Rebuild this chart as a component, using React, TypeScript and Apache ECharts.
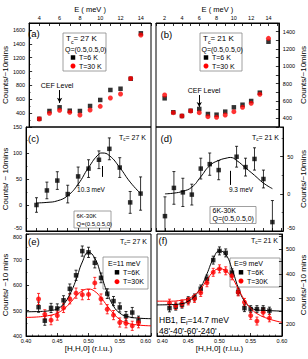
import React, { useEffect, useRef } from 'react';
import * as echarts from 'echarts';

const FONT = 'Liberation Sans, Arial, sans-serif';

// (a) energy scan, Tc = 27 K
const energyA = [4, 5, 6, 7, 8, 9, 10, 11, 12, 13, 14];
const aBlack = [318, 431, 484, 435, 431, 503, 590, 734, 752, 896, 1551];
const aRed = [315, 397, 441, 412, 373, 445, 498, 618, 676, 900, 1527];
// (b) energy scan, Tc = 21 K
const energyB = [2, 3, 4, 5, 6, 7, 8, 9, 10, 11, 12, 13, 14];
const bBlack = [631, 470, 427, 488, 508, 450, 442, 477, 527, 557, 600, 696, 1284];
const bRed = [669, 465, 427, 485, 465, 419, 412, 438, 477, 527, 573, 677, 1323];
// (c) difference 6K-30K
const energyC = [4, 5, 6, 7, 8, 9, 10, 11, 12, 13, 14];
const cDiff = [0, 28, 47, 21, 55, 70, 87, 108, 72, 5, 22];
const cErr = [14, 16, 17, 17, 18, 17, 17, 21, 19, 21, 32];
const cFitE = [4, 5, 6, 7, 8, 9, 10, 10.3, 11, 12, 13, 14];
const cFit = [4, 5, 8, 18, 40, 72, 98, 100, 95, 72, 44, 22];
// (d) difference 6K-30K
const energyD = [2, 3, 4, 5, 6, 7, 8, 10, 11, 12, 13, 14];
const dDiff = [-30, 8, 2, -1, 34, 40, 32, 50, 36, 47, 20, -38];
const dErr = [26, 22, 19, 14, 14, 15, 13, 14, 12, 15, 12, 29];
const dFitE = [2, 3, 4, 5, 6, 7, 8, 9, 9.3, 10, 11, 12, 13, 14];
const dFit = [0, 1, 3.5, 9, 23, 38, 45, 48.5, 49, 45, 35, 25, 14.5, 7];
// (e) Q scans E = 11 meV
const hE = [0.42, 0.43, 0.44, 0.45, 0.46, 0.47, 0.48, 0.49, 0.5, 0.51, 0.52, 0.53, 0.54, 0.55, 0.56, 0.57, 0.58];
const eBlack = [513, 460, 510, 508, 540, 585, 638, 733, 728, 687, 628, 566, 537, 512, 478, 492, 460];
const eBlackErr = [20, 18, 18, 18, 18, 19, 20, 20, 20, 20, 19, 19, 18, 18, 18, 20, 18];
const eRed = [545, 485, 462, 480, 510, 545, 568, 562, 563, 608, 545, 505, 482, 453, 450, 440, 452];
const eRedErr = [22, 18, 18, 18, 18, 19, 20, 20, 20, 22, 20, 18, 18, 18, 18, 18, 20];
const fitH = [0.4, 0.42, 0.44, 0.45, 0.46, 0.47, 0.48, 0.49, 0.5, 0.51, 0.52, 0.53, 0.54, 0.55, 0.56, 0.58, 0.6];
const eFitBlack = [495, 496, 500, 507, 525, 563, 620, 690, 728, 705, 640, 570, 517, 490, 478, 470, 468];
const eFitRed = [473, 475, 482, 490, 505, 528, 556, 577, 584, 575, 550, 518, 488, 465, 452, 443, 440];
// (f) Q scans E = 9 meV
const hF = [0.42, 0.43, 0.44, 0.45, 0.46, 0.47, 0.48, 0.49, 0.5, 0.51, 0.52, 0.53, 0.54, 0.55, 0.56, 0.57, 0.58];
const fBlack = [262, 268, 276, 294, 305, 340, 380, 455, 492, 484, 405, 328, 262, 258, 258, 258, 252];
const fBlackErr = [15, 14, 14, 14, 14, 15, 15, 16, 16, 16, 15, 14, 14, 14, 14, 14, 14];
const fRed = [282, 272, 280, 290, 300, 324, 364, 406, 420, 412, 392, 326, 286, 232, 210, 245, 222];
const fRedErr = [16, 15, 15, 15, 15, 15, 16, 16, 16, 16, 16, 15, 15, 15, 16, 16, 15];
const fFitBlack = [275, 276, 280, 290, 310, 345, 400, 460, 492, 478, 420, 345, 290, 265, 255, 252, 250];
const fFitRed = [290, 290, 294, 300, 315, 340, 375, 408, 420, 412, 385, 340, 295, 262, 240, 218, 205];

// tick labels
const eTicks = [2, 4, 6, 8, 10, 12, 14];
const aTicks = [400, 600, 800, 1000, 1200, 1400, 1600];
const bTicks = [400, 600, 800, 1000, 1200, 1400];
const cTicks = [-50, 0, 50, 100, 150];
const dTicks = [-50, 0, 50];
const eyTicks = [400, 500, 600, 700, 800];
const fyTicks = [200, 300, 400, 500];
const hTicks = [0.4, 0.45, 0.5, 0.55, 0.6];

const fmt = (list: number[], digits = 0) => (v: number) =>
  list.some((t) => Math.abs(t - v) < 1e-6) ? v.toFixed(digits) : '';

const pairs = (xs: number[], ys: number[]) => xs.map((x, i) => [x, ys[i]]);

const RED = '#f00';

function errSeries(xs: number[], ys: number[], errs: number[], color: string, idx: number) {
  return {
    type: 'custom',
    xAxisIndex: idx,
    yAxisIndex: idx,
    clip: true,
    silent: true,
    data: xs.map((x, i) => [x, ys[i] - errs[i], ys[i] + errs[i]]),
    encode: { x: 0, y: [1, 2] },
    renderItem: (params: any, api: any) => {
      const x = api.value(0);
      const lo = api.coord([x, api.value(1)]);
      const hi = api.coord([x, api.value(2)]);
      const w = 1.5;
      const st = { stroke: color, lineWidth: 0.8 };
      return {
        type: 'group',
        children: [
          { type: 'line', shape: { x1: lo[0], y1: lo[1], x2: hi[0], y2: hi[1] }, style: st },
          { type: 'line', shape: { x1: lo[0] - w, y1: lo[1], x2: lo[0] + w, y2: lo[1] }, style: st },
          { type: 'line', shape: { x1: hi[0] - w, y1: hi[1], x2: hi[0] + w, y2: hi[1] }, style: st },
        ],
      };
    },
  };
}

function scat(data: number[][], color: string, symbol: string, idx: number, extra: any = {}) {
  return {
    type: 'scatter',
    xAxisIndex: idx,
    yAxisIndex: idx,
    symbol,
    symbolSize: symbol === 'rect' ? 4.5 : 5,
    itemStyle: { color },
    data,
    silent: true,
    ...extra,
  };
}

function fit(data: number[][], color: string, idx: number) {
  return {
    type: 'line',
    xAxisIndex: idx,
    yAxisIndex: idx,
    data,
    smooth: 0.5,
    showSymbol: false,
    symbol: 'none',
    silent: true,
    lineStyle: { color, width: 1 },
  };
}

function vmark(x: number, y1: number, y2: number, arrow: boolean) {
  return {
    silent: true,
    symbol: arrow ? ['none', 'arrow'] : ['none', 'none'],
    symbolSize: [4, 5],
    lineStyle: { color: '#000', width: 1, type: 'solid' },
    label: { show: false },
    data: [[{ coord: [x, y1] }, { coord: [x, y2] }]],
  };
}

const axisBase = {
  axisLine: { show: true, onZero: false, lineStyle: { color: '#000', width: 1 } },
  axisTick: { show: true, inside: true, length: 3, lineStyle: { color: '#000', width: 0.8 } },
  splitLine: { show: false },
};
const labelStyle = { fontSize: 5.5, color: '#000', fontFamily: FONT };
const nameStyle = { fontSize: 8, color: '#000', fontFamily: FONT };

function txt(x: number, y: number, text: string, size: number, align = 'left') {
  return {
    type: 'text',
    x,
    y,
    silent: true,
    style: { text, fontSize: size, fontFamily: FONT, fill: '#000', align, verticalAlign: 'middle' },
  };
}

function subTxt(x: number, y: number, a: string, sub: string, b: string, size: number, align = 'left') {
  return {
    type: 'text',
    x,
    y,
    silent: true,
    style: {
      text: `{m|${a}}{s|${sub}}{m|${b}}`,
      align,
      verticalAlign: 'middle',
      fontFamily: FONT,
      fontSize: size,
      fill: '#000',
      rich: {
        m: { fontSize: size, fontFamily: FONT, fill: '#000', lineHeight: size + 3 },
        s: { fontSize: size * 0.65, fontFamily: FONT, fill: '#000', lineHeight: size * 0.65, verticalAlign: 'bottom' },
      },
    },
  };
}

function box(x: number, y: number, w: number, h: number) {
  return {
    type: 'rect',
    silent: true,
    shape: { x, y, width: w, height: h },
    style: { fill: 'none', stroke: '#888', lineWidth: 0.8 },
  };
}
function sq(x: number, y: number) {
  return { type: 'rect', silent: true, shape: { x: x - 2.25, y: y - 2.25, width: 4.5, height: 4.5 }, style: { fill: '#000' } };
}
function dot(x: number, y: number) {
  return { type: 'circle', silent: true, shape: { cx: x, cy: y, r: 2.5 }, style: { fill: RED } };
}

export default function App() {
  const ref = useRef<HTMLDivElement>(null);
  useEffect(() => {
    if (!ref.current) return;
    const chart = echarts.init(ref.current, undefined, { renderer: 'svg' });
    const gridStyle = { show: true, borderColor: '#000', borderWidth: 1, backgroundColor: 'transparent' };
    const grids = [
      { left: 23, top: 23, width: 128, height: 104 },
      { left: 156, top: 23, width: 128, height: 104 },
      { left: 23, top: 127, width: 128, height: 104 },
      { left: 156, top: 127, width: 128, height: 104 },
      { left: 23, top: 234, width: 128, height: 102 },
      { left: 157, top: 234, width: 127, height: 102 },
    ].map((g) => ({ ...g, ...gridStyle }));

    const eAxis = (gi: number, min: number, max: number, top: boolean) => ({
      ...axisBase,
      type: 'value',
      gridIndex: gi,
      position: top ? 'top' : 'bottom',
      min,
      max,
      interval: 1,
      axisLabel: { show: top, margin: 2, ...labelStyle, formatter: fmt(eTicks) },
      name: top ? 'E ( meV )' : '',
      nameLocation: 'middle',
      nameGap: 10,
      nameTextStyle: { ...nameStyle, fontSize: 7.5 },
    });
    const hAxis = (gi: number, extraLabel: any) => ({
      ...axisBase,
      type: 'value',
      gridIndex: gi,
      position: 'bottom',
      min: 0.4,
      max: 0.6,
      interval: 0.05,
      minorTick: { show: true, splitNumber: 5, length: 1.5, lineStyle: { color: '#000', width: 0.6 } },
      axisLabel: { margin: 2, ...labelStyle, formatter: fmt(hTicks, 2), ...extraLabel },
      name: '[H,H,0] (r.l.u.)',
      nameLocation: 'middle',
      nameGap: 8,
      nameTextStyle: nameStyle,
    });
    const yAx = (gi: number, right: boolean, min: number, max: number, interval: number, ticks: number[], name: string, minor: boolean, extraLabel: any = {}) => ({
      ...axisBase,
      type: 'value',
      gridIndex: gi,
      position: right ? 'right' : 'left',
      min,
      max,
      interval,
      minorTick: { show: minor, splitNumber: 2, length: 1.5, lineStyle: { color: '#000', width: 0.6 } },
      axisLabel: { margin: 4, ...labelStyle, formatter: fmt(ticks), ...extraLabel },
      name,
      nameLocation: 'middle',
      nameRotate: 90,
      nameGap: 12,
      nameTextStyle: nameStyle,
    });

    const graphic: any[] = [
      txt(28, 33, '(a)', 9.5),
      txt(160.5, 34, '(b)', 9.5),
      txt(28, 138, '(c)', 9.5),
      txt(160.5, 138, '(d)', 9.5),
      txt(28, 241, '(e)', 9.5),
      txt(158.5, 240, '(f)', 9.5),
      // (a) legend
      box(63, 33, 43, 38),
      subTxt(66, 38.5, 'T', 'c', '= 27 K', 8),
      txt(65, 49.5, 'Q=(0.5,0.5,0)', 7),
      sq(73, 57.5),
      txt(79, 57.5, 'T=6 K', 7),
      dot(73, 66),
      txt(79, 66, 'T=30 K', 7),
      // (b) legend
      box(200, 33, 42, 38),
      subTxt(203, 38.5, 'T', 'c', '= 21 K', 8),
      txt(201.5, 49.5, 'Q=(0.5,0.5,0)', 7),
      sq(206, 57.5),
      txt(212, 57.5, 'T=6 K', 7),
      dot(206, 66),
      txt(212, 66, 'T=30 K', 7),
      txt(57, 85, 'CEF Level', 7, 'center'),
      txt(204, 90, 'CEF Level', 7, 'center'),
      // (c)/(d)
      subTxt(146, 137, 'T', 'c', '= 27 K', 7, 'right'),
      subTxt(279, 137, 'T', 'c', '= 21 K', 7, 'right'),
      txt(91, 189, '10.3 meV', 6.5, 'center'),
      txt(241, 189, '9.3 meV', 6.5, 'center'),
      box(74, 211, 37, 17),
      txt(76.5, 215.5, '6K-30K', 6),
      txt(76.5, 224, 'Q=(0.5,0.5,0)', 6),
      box(210, 206.5, 46, 17),
      txt(212.5, 210.5, '6K-30K', 7),
      txt(212.5, 218.5, 'Q=(0.5,0.5,0)', 7),
      // (e)
      subTxt(147, 241, 'T', 'c', '= 27 K', 7, 'right'),
      box(103, 257, 45, 32),
      txt(108, 263.3, 'E=11 meV', 7),
      sq(117, 272.3),
      txt(123, 272.3, 'T=6K', 7),
      dot(117, 281.7),
      txt(123, 281.7, 'T=30K', 7),
      // (f)
      subTxt(278, 240, 'T', 'c', '= 21 K', 7, 'right'),
      box(230, 258, 50, 29),
      txt(234, 263.5, 'E=9 meV', 7),
      sq(241, 272.3),
      txt(247, 272.3, 'T=6K', 7),
      dot(241, 281),
      txt(247, 281, 'T=30K', 7),
      subTxt(159, 320, 'HB1, E', 'f', '=14.7 meV', 8.5),
      txt(159, 331, "48'-40'-60'-240'", 8.5),
    ];

    const option: any = {
      animation: false,
      backgroundColor: '#fff',
      textStyle: { fontFamily: FONT },
      grid: grids,
      xAxis: [
        eAxis(0, 3, 15, true),
        eAxis(1, 1, 15.2, true),
        eAxis(2, 3, 15, false),
        eAxis(3, 1, 15.2, false),
        hAxis(4, { alignMaxLabel: 'right' }),
        hAxis(5, { alignMinLabel: 'left' }),
      ],
      yAxis: [
        yAx(0, false, 200, 1700, 200, aTicks, 'Counts/~10mins', true),
        yAx(1, true, 300, 1500, 100, bTicks, 'Counts/~10mins', false),
        yAx(2, false, -50, 150, 50, cTicks, 'Counts/ ~ 10mins', true, { verticalAlignMinLabel: 'bottom' }),
        yAx(3, true, -50, 90, 50, dTicks, 'Counts/~10mins', true, { verticalAlignMinLabel: 'bottom' }),
        yAx(4, false, 400, 800, 100, eyTicks, 'Counts/ ~10 mins', true, { verticalAlignMaxLabel: 'top' }),
        yAx(5, true, 150, 560, 50, fyTicks, 'Counts/~10 mins', false),
      ],
      series: [
        scat(pairs(energyA, aBlack), '#000', 'rect', 0, { markLine: vmark(6, 733, 548, true) }),
        scat(pairs(energyA, aRed), RED, 'circle', 0),
        scat(pairs(energyB, bBlack), '#000', 'rect', 1, { markLine: vmark(6, 669, 532, true) }),
        scat(pairs(energyB, bRed), RED, 'circle', 1),
        fit(pairs(cFitE, cFit), '#000', 2),
        errSeries(energyC, cDiff, cErr, '#000', 2),
        scat(pairs(energyC, cDiff), '#000', 'rect', 2, { markLine: vmark(10.3, 75, 54, false) }),
        fit(pairs(dFitE, dFit), '#000', 3),
        errSeries(energyD, dDiff, dErr, '#000', 3),
        scat(pairs(energyD, dDiff), '#000', 'rect', 3, { markLine: vmark(9.3, 31, 12, false) }),
        fit(pairs(fitH, eFitBlack), '#000', 4),
        fit(pairs(fitH, eFitRed), RED, 4),
        errSeries(hE, eBlack, eBlackErr, '#000', 4),
        errSeries(hE, eRed, eRedErr, RED, 4),
        scat(pairs(hE, eBlack), '#000', 'rect', 4),
        scat(pairs(hE, eRed), RED, 'circle', 4),
        fit(pairs(fitH, fFitBlack), '#000', 5),
        fit(pairs(fitH, fFitRed), RED, 5),
        errSeries(hF, fBlack, fBlackErr, '#000', 5),
        errSeries(hF, fRed, fRedErr, RED, 5),
        scat(pairs(hF, fBlack), '#000', 'rect', 5),
        scat(pairs(hF, fRed), RED, 'circle', 5),
      ],
      graphic,
    };
    chart.setOption(option);
    return () => chart.dispose();
  }, []);
  return <div ref={ref} style={{ position: 'fixed', left: 0, top: 0, width: 308, height: 359 }} />;
}
